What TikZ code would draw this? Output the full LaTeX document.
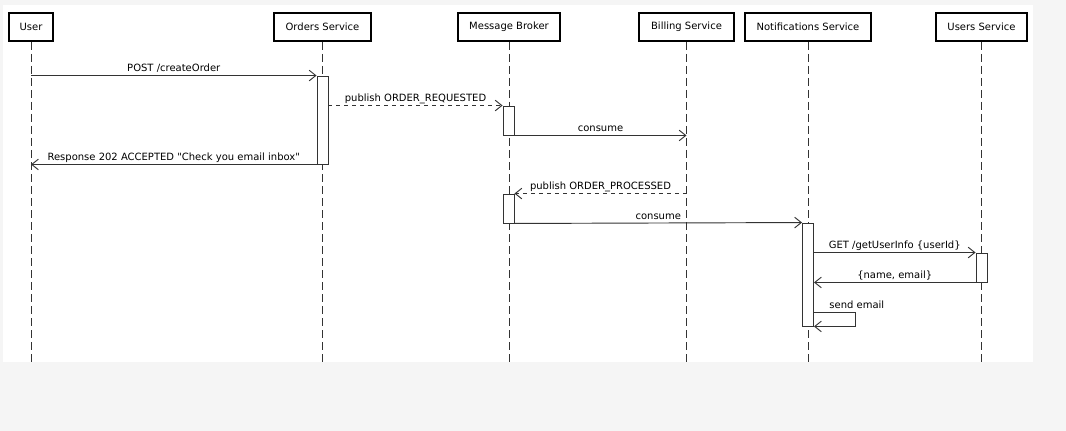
\documentclass[tikz,border=0pt]{standalone}
\usepackage{fontspec}
\setmainfont{DejaVu Sans}
\usetikzlibrary{arrows.meta,calc}
\definecolor{pagegray}{HTML}{F5F5F5}
\definecolor{linegray}{HTML}{333333}
\tikzset{
    x=0.75pt,y=-0.75pt,semithick,
    font=\fontsize{7.5}{9}\selectfont,
    actor/.style ={draw=black, line width=1.5pt, fill=white, minimum height=21pt, inner sep=0pt},
    lifeline/.style={draw=linegray, line width=0.7pt, dash pattern=on 6pt off 3pt},
    act/.style = {draw=linegray, fill=white, line width=0.7pt, minimum width=8.25pt, inner sep=0pt},
    msg/.style = {draw=linegray, line width=0.7pt, -{Straight Barb[length=5pt,width=8pt]}},
    reply/.style={msg, dashed},
    lbl/.style = {above, inner sep=2.5pt, text depth=0pt}
}

\begin{document}
\begin{tikzpicture}
	\fill[pagegray] (0,0) rectangle (1066,431);
	\fill[white] (3,5) rectangle (1033,362);
	\coordinate (bottom) at (0,362);

	% participants
	\node[actor, minimum width=33pt] (1) at (31,27) {User};
	\node[actor, minimum width=72.75pt] (2) at (322.5,27) {Orders Service};
	\node[actor, minimum width=76.5pt] (3) at (509,27) {Message Broker};
	\node[actor, minimum width=71.25pt] (4) at (686.5,27) {Billing Service};
	\node[actor, minimum width=94.5pt] (5) at (808,27) {Notifications Service};
	\node[actor, minimum width=68.25pt] (6) at (981.5,27) {Users Service};
	\foreach \n in {1,...,6}
		\draw[lifeline] (\n.south) -- (\n.south |- bottom);

	% activations
	\node[act, minimum height=66pt] (a1) at (322.5,120) {};
	\node[act, minimum height=21.75pt] (a2) at (508.5,120.5) {};
	\node[act, minimum height=21.75pt] (a3) at (508.5,208.5) {};
	\node[act, minimum height=77.25pt] (a4) at (808,274.5) {};
	\node[act, minimum height=21.75pt] (a5) at (981.5,267.5) {};
	\coordinate (self) at (855,312);

	% messages
	\path (1 |- a1.north) edge[msg] node[lbl] {POST /createOrder} (a1.north west);
	\path (a1.east |- a2.north) edge[reply] node[lbl] {publish ORDER\_REQUESTED} (a2.north west);
	\path (a2.south east) edge[msg] node[lbl] {consume} (4 |- a2.south);
	\path (a1.south west) edge[msg] node[lbl] {Response 202 ACCEPTED \textquotedbl Check you email inbox\textquotedbl} (1 |- a1.south);
	\path (4 |- a3.north) edge[reply] node[lbl] {publish ORDER\_PROCESSED} (a3.north east);
	\path (a3.south east) edge[msg] node[lbl] {consume} (a4.north west);
	\path (a4.east |- a5.north) edge[msg] node[lbl] {GET /getUserInfo \{userId\}} (a5.north west);
	\path (a5.south west) edge[msg] node[lbl] {\{name, email\}} (a4.east |- a5.south);
	\draw[msg] (a4.east |- self) -- node[pos=0, above right, inner sep=2.5pt, text depth=0pt, xshift=8.75pt] {send email} (self) |- (a4.south east);
\end{tikzpicture}
\end{document}
